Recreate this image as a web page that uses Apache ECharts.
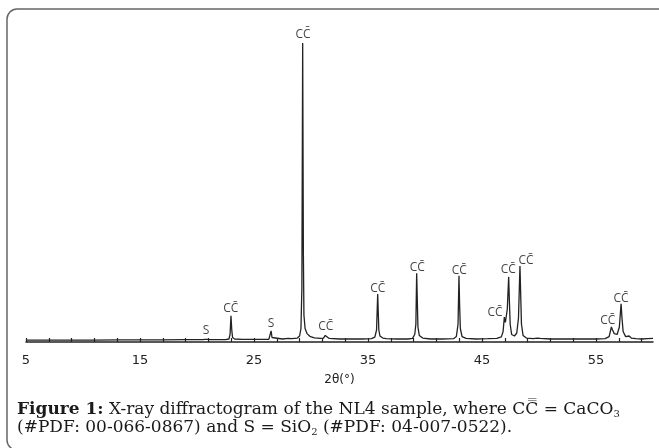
<!DOCTYPE html>
<html>
<head>
<meta charset="utf-8">
<script src="https://cdn.jsdelivr.net/npm/echarts@6/dist/echarts.min.js"></script>
<style>
  html, body { margin: 0; padding: 0; background: #fff; }
  #chart { width: 659px; height: 448px; }
</style>
</head>
<body>
<div id="chart"></div>
<script>
// diffractogram profile (2θ in degrees, intensity in arbitrary units)
var twoTheta = [
  5, 7, 9, 11, 13, 15, 17, 19, 20.5, 20.7, 20.8, 20.9, 21.1,
  22.5, 22.8, 22.9, 22.98, 23.05, 23.12, 23.3, 24, 25.5,
  26.3, 26.42, 26.5, 26.58, 26.7, 27.5, 28.0, 28.3, 28.8,
  29.0, 29.12, 29.2, 29.27, 29.33, 29.38, 29.48, 29.65, 29.9, 30.3, 30.8,
  31.1, 31.25, 31.32, 31.4, 31.6, 32.5, 33.5, 34.5,
  35.3, 35.6, 35.75, 35.85, 35.9, 35.95, 36.05, 36.3, 36.45, 36.6, 37.5, 38.5,
  38.9, 39.1, 39.2, 39.27, 39.33, 39.38, 39.5, 39.8, 40.5, 41.5, 42.5,
  42.75, 42.9, 42.98, 43.04, 43.1, 43.25, 43.6, 44.5, 45.5, 46.3,
  46.7, 46.85, 46.96, 47.05, 47.13, 47.22, 47.34, 47.4, 47.47, 47.6, 47.85,
  48.05, 48.2, 48.33, 48.4, 48.46, 48.6, 48.9, 49.5, 49.85, 49.97, 50.1,
  51, 52, 53, 54, 55, 55.8, 56.15, 56.35, 56.45, 56.6, 56.85,
  57.05, 57.2, 57.28, 57.38, 57.6, 57.9, 58.1, 58.5, 59, 59.5, 60
]
var intensity = [
  6, 6, 6, 6, 7, 7, 7, 8, 8, 9, 14, 9, 8,
  8, 10, 25, 87, 40, 15, 10, 9, 9,
  9, 15, 37, 15, 10, 10, 12, 11, 13,
  20, 45, 180, 997, 300, 90, 45, 28, 19, 14, 12,
  13, 22, 27, 18, 12, 10, 10, 10,
  11, 16, 40, 160, 100, 40, 20, 13, 16, 11, 10, 10,
  12, 25, 60, 229, 130, 50, 22, 13, 10, 10, 11,
  18, 60, 221, 120, 45, 18, 12, 10, 11, 12,
  17, 35, 83, 65, 60, 110, 217, 140, 60, 25, 20,
  30, 80, 253, 150, 60, 22, 13, 11, 13, 18, 12,
  10, 10, 10, 10, 10, 11, 18, 50, 40, 28, 25,
  50, 127, 80, 35, 18, 20, 13, 11, 10, 11, 12
]

// phase labels: 2θ under the label, intensity at the label's lower edge, text
var labelTheta = [20.8, 22.96, 26.5, 29.3, 31.3, 35.85, 39.33, 43.0, 46.14, 47.3, 48.86, 56.03, 57.2]
var labelIntensity = [17, 91, 41, 1006, 30, 157, 228, 219, 78, 222, 252, 50, 124]
var labelText = ['S', 'CC\u0304', 'S', 'CC\u0304', 'CC\u0304', 'CC\u0304', 'CC\u0304', 'CC\u0304',
  'CC\u0304', 'CC\u0304', 'CC\u0304', 'CC\u0304', 'CC\u0304']

var xTickLabels = [5, 15, 25, 35, 45, 55]

var inkColor = '#222'

var chart = echarts.init(document.getElementById('chart'))

var profile = twoTheta.map(function (t, i) { return [t, intensity[i]] })
var labelPoints = labelTheta.map(function (t, i) {
  return { value: [t, labelIntensity[i]], name: labelText[i] }
})

var option = {
  animation: false,
  backgroundColor: '#fff',
  grid: { left: 26, right: 6, top: 42, bottom: 106 },
  xAxis: {
    type: 'value',
    min: 5,
    max: 60,
    interval: 2,
    name: '2θ(°)',
    nameLocation: 'middle',
    nameGap: 32,
    nameTextStyle: { color: inkColor, fontSize: 12, fontFamily: 'DejaVu Sans' },
    axisLine: { show: true, lineStyle: { color: inkColor, width: 1.5 } },
    axisTick: { show: true, inside: true, length: 4, lineStyle: { color: inkColor, width: 1.2 } },
    axisLabel: {
      color: inkColor,
      fontSize: 13,
      fontFamily: 'DejaVu Sans',
      margin: 12,
      showMaxLabel: false,
      formatter: function (v) {
        return xTickLabels.indexOf(v) >= 0 ? String(v) : ''
      }
    },
    splitLine: { show: false }
  },
  yAxis: {
    type: 'value',
    min: 0,
    max: 1000,
    show: false
  },
  series: [
    {
      type: 'line',
      data: profile,
      symbol: 'none',
      clip: false,
      lineStyle: { color: inkColor, width: 1.3 }
    },
    {
      type: 'scatter',
      data: labelPoints,
      symbolSize: 0,
      clip: false,
      silent: true,
      label: {
        show: true,
        position: 'top',
        distance: 0,
        formatter: '{b}',
        color: '#111',
        fontSize: 12,
        fontFamily: 'Open Sans'
      }
    }
  ],
  graphic: [
    {
      type: 'rect',
      shape: { x: 7, y: 9, width: 1000, height: 441, r: 10 },
      style: { fill: 'none', stroke: '#666', lineWidth: 1.5 },
      silent: true
    },
    {
      type: 'text',
      left: 17,
      top: 401,
      style: {
        text: '{b|Figure 1:} X-ray diffractogram of the NL4 sample, where CC\u033F = CaCO{s|3}\n' +
              '(#PDF: 00-066-0867) and S = SiO{s|2} (#PDF: 04-007-0522).',
        fontFamily: 'DejaVu Serif',
        fontSize: 17,
        lineHeight: 18,
        fill: '#1a1a1a',
        rich: {
          b: { fontWeight: 'bold', fontFamily: 'DejaVu Serif', fontSize: 17, lineHeight: 18, fill: '#1a1a1a' },
          s: { fontFamily: 'DejaVu Serif', fontSize: 10, lineHeight: 18, verticalAlign: 'bottom', fill: '#1a1a1a' }
        }
      }
    }
  ]
}

chart.setOption(option)
window.addEventListener('resize', function () { chart.resize() })
</script>
</body>
</html>
